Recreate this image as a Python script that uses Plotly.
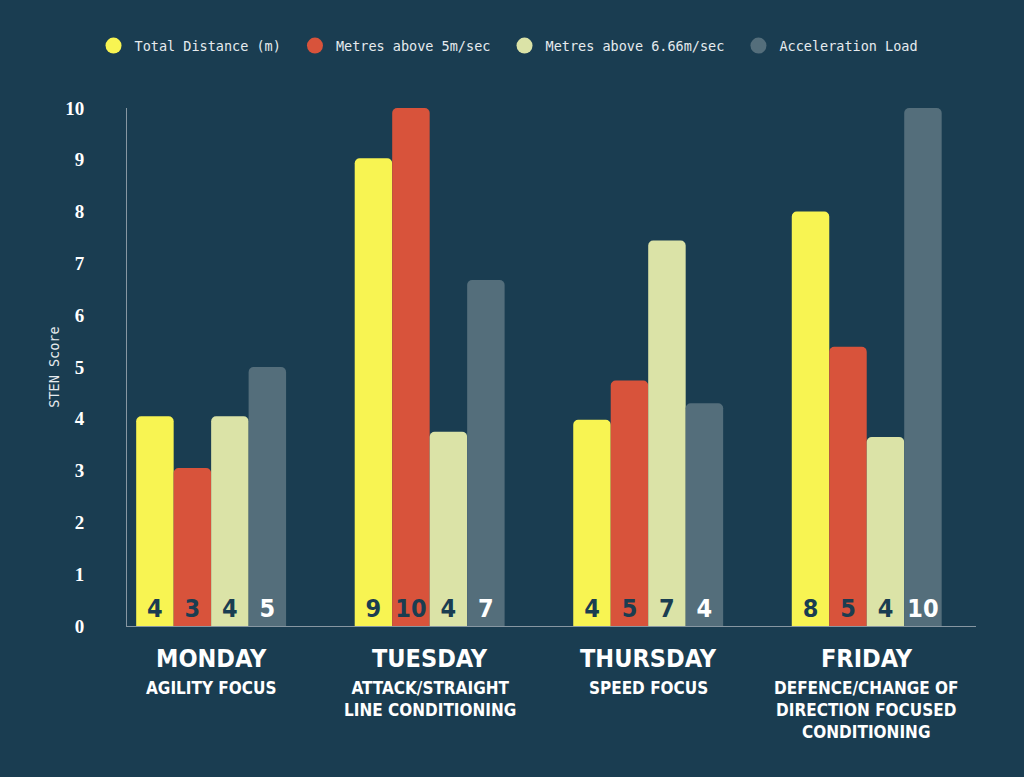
import plotly.graph_objects as go

# session days and their focus (x categories)
days = ["MONDAY", "TUESDAY", "THURSDAY", "FRIDAY"]
focus = ["AGILITY FOCUS",
         "ATTACK/STRAIGHT<br>LINE CONDITIONING",
         "SPEED FOCUS",
         "DEFENCE/CHANGE OF<br>DIRECTION FOCUSED<br>CONDITIONING"]

series = ["Total Distance (m)", "Metres above 5m/sec",
          "Metres above 6.66m/sec", "Acceleration Load"]

# bar heights (STEN score)
total_distance = [4.05, 9.03, 3.98, 8.0]
metres_5 = [3.05, 10.0, 4.74, 5.39]
metres_666 = [4.05, 3.75, 7.44, 3.65]
accel_load = [5.0, 6.68, 4.3, 10.0]

# rounded labels printed in the bars
total_distance_lbl = [4, 9, 4, 8]
metres_5_lbl = [3, 10, 5, 5]
metres_666_lbl = [4, 4, 7, 4]
accel_load_lbl = [5, 7, 4, 10]

y_ticks = list(range(0, 11))

bg = "#1a3d51"
colors = ["#f8f452", "#d8533b", "#dbe3a7", "#546e7b"]
label_colors = ["#1a3d51", "#1a3d51", "#1a3d51", "#ffffff"]
values = [total_distance, metres_5, metres_666, accel_load]
labels = [total_distance_lbl, metres_5_lbl, metres_666_lbl, accel_load_lbl]

cond_font = "DejaVu Sans Condensed, Roboto, sans-serif"
mono_font = "DejaVu Sans Mono, Liberation Mono, monospace"
pad = "\u00a0"

x_pos = list(range(len(days)))

fig = go.Figure()
for name, vals, lbls, col, lcol in zip(series, values, labels, colors, label_colors):
    fig.add_trace(go.Bar(
        x=x_pos, y=vals, name=name, marker_color=col, marker_line_width=0,
        text=lbls, textposition="inside", insidetextanchor="start",
        textangle=0, constraintext="none",
        textfont=dict(family=cond_font, size=25, color=lcol, weight="bold"),
        showlegend=False))
    # circle legend markers
    fig.add_trace(go.Scatter(
        x=[None], y=[None], mode="markers", name=name + pad,
        marker=dict(symbol="circle", size=16, color=col)))

# category names and focus text under the axis
for xp, d, f in zip(x_pos, days, focus):
    fig.add_annotation(x=xp, xref="x", y=-0.03, yref="paper",
                       yanchor="top", showarrow=False, text=f"<b>{d}</b>",
                       font=dict(family=cond_font, size=25, color="#ffffff"))
    fig.add_annotation(x=xp, xref="x", y=-0.096, yref="paper",
                       yanchor="top", showarrow=False, text=f"<b>{f}</b>",
                       font=dict(family=cond_font, size=17, color="#ffffff"))

fig.update_layout(
    width=1024, height=777,
    paper_bgcolor=bg, plot_bgcolor=bg,
    margin=dict(l=127, r=48, t=108, b=151, autoexpand=False),
    barmode="group", bargap=0.314, bargroupgap=0,
    barcornerradius=5,
    legend=dict(orientation="h", x=0.4535, xanchor="center",
                y=1.12, yanchor="middle",
                font=dict(family=mono_font, size=13.5, color="#e6ebee"),
                itemsizing="trace", itemwidth=32, tracegroupgap=0),
    xaxis=dict(tickmode="array", tickvals=x_pos, showticklabels=False,
               range=[-0.385, 3.5], showgrid=False, zeroline=False,
               showline=True, linecolor="#8797a2", linewidth=1, ticks="",
               fixedrange=True),
    yaxis=dict(range=[0, 10], tickvals=y_ticks, showgrid=False, zeroline=False,
               showline=True, linecolor="#8797a2", linewidth=1, ticks="",
               ticklabelstandoff=38,
               tickfont=dict(family="Liberation Serif, DejaVu Serif, serif",
                             size=19, color="#ffffff", weight="bold"),
               title=dict(text="STEN Score", standoff=2,
                          font=dict(family=mono_font, size=13.5, color="#e6ebee"))),
    font=dict(color="#ffffff"),
)

fig.write_html("out.html", config={"displayModeBar": False},
               post_script="document.body.style.margin='0px';")
